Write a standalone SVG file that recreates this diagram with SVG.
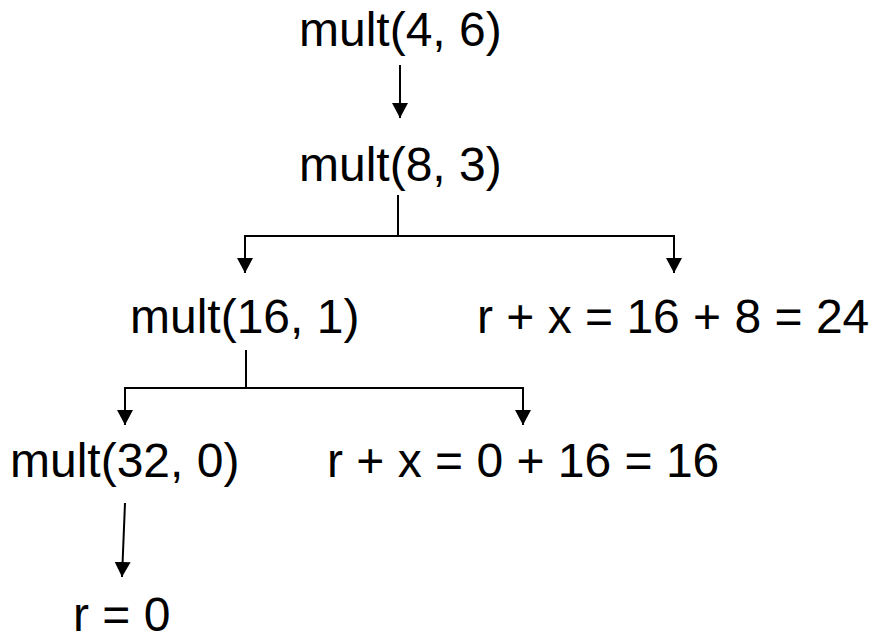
<svg xmlns="http://www.w3.org/2000/svg" width="872" height="636" viewBox="0 0 872 636">
<style>
  text { font-family: "Liberation Sans", Arial, sans-serif; font-size: 48px; fill: #000; }
  .c { fill: none; stroke: #000; stroke-width: 2; }
</style>
<defs>
  <marker id="ah" markerUnits="userSpaceOnUse" markerWidth="15" markerHeight="16" refX="15" refY="8" orient="auto" viewBox="0 0 15 16">
    <path d="M0,0 L15,8 L0,16 Z" fill="#000"/>
  </marker>
</defs>
<rect width="872" height="636" fill="#fff"/>
<g id="n1"><text x="299" y="46">mult(4, 6)</text></g>
<g id="n2"><text x="299" y="181">mult(8, 3)</text></g>
<g id="n3"><text x="130" y="333">mult(16, 1)</text></g>
<g id="n4"><text x="477" y="333">r + x = 16 + 8 = 24</text></g>
<g id="n5"><text x="10" y="477">mult(32, 0)</text></g>
<g id="n6"><text x="327" y="477">r + x = 0 + 16 = 16</text></g>
<g id="n7"><text x="73" y="631">r = 0</text></g>
<g id="connectors">
  <path class="c" d="M400,65 L400,118" marker-end="url(#ah)"/>
  <path class="c" d="M398,195 L398,236"/>
  <path class="c" d="M398,236 L245,236 L245,273" marker-end="url(#ah)"/>
  <path class="c" d="M398,236 L674,236 L674,273" marker-end="url(#ah)"/>
  <path class="c" d="M246,350 L246,388"/>
  <path class="c" d="M246,388 L125,388 L125,425" marker-end="url(#ah)"/>
  <path class="c" d="M246,388 L523,388 L523,425" marker-end="url(#ah)"/>
  <path class="c" d="M125,503 L122,577" marker-end="url(#ah)"/>
</g>
</svg>
